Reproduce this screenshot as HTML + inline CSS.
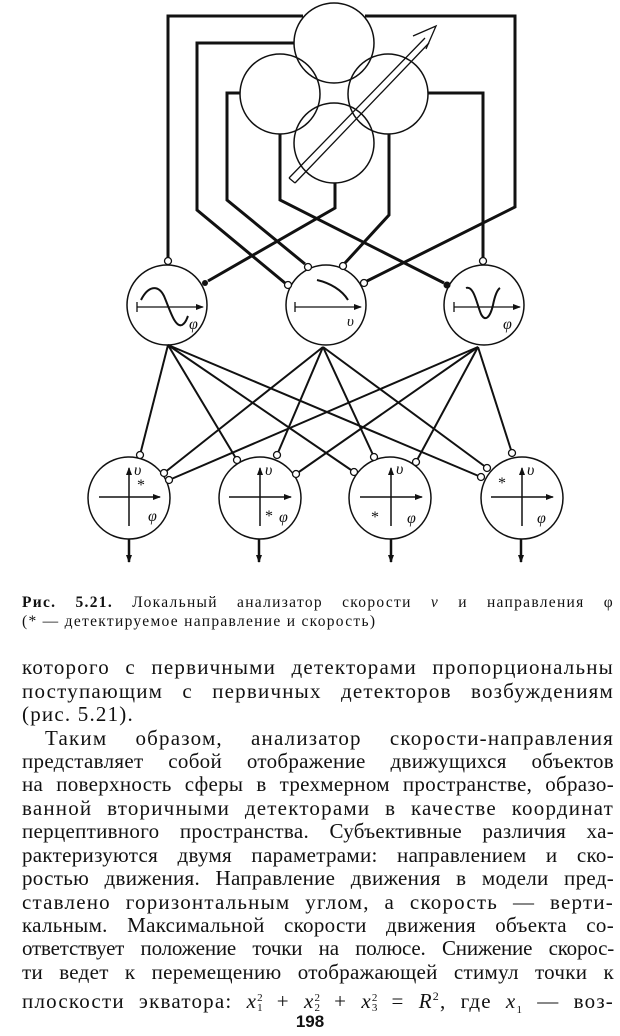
<!DOCTYPE html>
<html><head><meta charset="utf-8"><style>
html,body{margin:0;padding:0;background:#fff;}
body{width:620px;height:1036px;position:relative;overflow:hidden;font-family:"Liberation Serif","DejaVu Serif",serif;color:#111;}
svg{position:absolute;left:0;top:0;}
.cap{position:absolute;left:22px;width:592px;font-size:15.5px;line-height:19px;letter-spacing:1.3px;}
.ln{position:absolute;left:22px;width:592px;font-size:21px;line-height:23px;letter-spacing:1.2px;text-align:justify;text-align-last:justify;white-space:nowrap;}
.ln.nj{text-align-last:left;}
.t{letter-spacing:0.3px;}
.ind{left:45px;width:569px;}
.ss{display:inline-block;vertical-align:middle;font-size:11px;line-height:10px;text-align:left;letter-spacing:0;}
</style></head><body>
<svg width="620" height="580" viewBox="0 0 620 580">
<defs>
<marker id="ah" markerWidth="8" markerHeight="8" refX="7" refY="4" orient="auto" markerUnits="userSpaceOnUse"><path d="M0,1 L8,4 L0,7 Z" fill="#111"/></marker>
</defs>
<g fill="none" stroke="#111" stroke-width="3">
<polyline points="303,16 168,16 168,258"/>
<polyline points="365,16 515,16 515,207 367,281"/>
<polyline points="303,43 197,43 197,210 285,283"/>
<polyline points="240,93 227,93 227,200 305,264"/>
<polyline points="280,134 280,200 444,283"/>
<polyline points="335,183 335,208 208,281"/>
<polyline points="389,134 389,215 345,263"/>
<polyline points="428,93 483,93 483,258"/>
</g>
<circle cx="334" cy="43" r="40" fill="#fff"/>
<g fill="none" stroke="#111" stroke-width="1.5">
<circle cx="280" cy="94" r="40"/><circle cx="388" cy="94" r="40"/><circle cx="334" cy="143" r="40"/><circle cx="334" cy="43" r="40"/>
</g>
<g stroke="#111" stroke-width="1.3" fill="none">
<path d="M289,178 L425,38 M295,183 L429,43 M289,178 L295,183"/>
<path d="M413,36 L436,26 L426,49"/>
</g>
<g fill="#fff" stroke="#111" stroke-width="1.5">
<circle cx="167" cy="305" r="40"/><circle cx="326" cy="305" r="40"/><circle cx="484" cy="305" r="40"/>
</g>
<g fill="#fff" stroke="#111" stroke-width="1.3">
<circle cx="168" cy="261" r="3.5"/><circle cx="483" cy="261" r="3.5"/>
<circle cx="288" cy="285" r="3.5"/><circle cx="308" cy="267" r="3.5"/><circle cx="343" cy="266" r="3.5"/><circle cx="364" cy="283" r="3.5"/>
</g>
<circle cx="447" cy="285" r="3.5" fill="#111"/><circle cx="205" cy="283" r="3" fill="#111"/>
<g stroke="#111" stroke-width="1.3" fill="none">
<line x1="137" y1="307" x2="203" y2="307" marker-end="url(#ah)"/><line x1="137" y1="302" x2="137" y2="312"/>
<path d="M141,300 C148,286 158,284 164,296 C170,310 175,328 182,325 C186,323 187,318 188,316" stroke-width="2"/>
<line x1="295" y1="307" x2="361" y2="307" marker-end="url(#ah)"/><line x1="295" y1="302" x2="295" y2="312"/>
<path d="M317,280 C330,283 342,290 348,300" stroke-width="2"/>
<line x1="454" y1="307" x2="520" y2="307" marker-end="url(#ah)"/><line x1="454" y1="302" x2="454" y2="312"/>
<path d="M466,288 C474,285 477,305 481,314 C485,322 490,318 493,305 C495,295 497,290 500,288" stroke-width="2"/>
</g>
<g font-family="Liberation Serif,serif" font-style="italic" font-size="16" fill="#111">
<text x="189" y="329">φ</text><text x="347" y="326" font-size="15">υ</text><text x="503" y="329">φ</text>
</g>
<g stroke="#111" stroke-width="2" fill="none">
<line x1="168" y1="345" x2="140" y2="455"/><line x1="168" y1="345" x2="237" y2="460"/><line x1="168" y1="345" x2="354" y2="472"/><line x1="168" y1="345" x2="481" y2="477"/>
<line x1="323" y1="347" x2="164" y2="473"/><line x1="323" y1="347" x2="277" y2="455"/><line x1="323" y1="347" x2="374" y2="457"/><line x1="323" y1="347" x2="487" y2="468"/>
<line x1="478" y1="347" x2="169" y2="480"/><line x1="478" y1="347" x2="296" y2="474"/><line x1="478" y1="347" x2="416" y2="462"/><line x1="478" y1="347" x2="512" y2="453"/>
</g>
<g fill="#fff" stroke="#111" stroke-width="1.5">
<circle cx="129" cy="498" r="41"/><circle cx="260" cy="498" r="41"/><circle cx="390" cy="498" r="41"/><circle cx="522" cy="498" r="41"/>
</g>
<g fill="#fff" stroke="#111" stroke-width="1.3">
<circle cx="140" cy="455" r="3.5"/><circle cx="164" cy="473" r="3.5"/><circle cx="169" cy="480" r="3.5"/>
<circle cx="237" cy="460" r="3.5"/><circle cx="277" cy="455" r="3.5"/><circle cx="296" cy="474" r="3.5"/>
<circle cx="354" cy="472" r="3.5"/><circle cx="374" cy="457" r="3.5"/><circle cx="416" cy="462" r="3.5"/>
<circle cx="487" cy="468" r="3.5"/><circle cx="481" cy="477" r="3.5"/><circle cx="512" cy="453" r="3.5"/>
</g>
<g stroke="#111" stroke-width="1.5" fill="none">
<line x1="129" y1="526" x2="129" y2="468" marker-end="url(#ah)"/><line x1="99" y1="497" x2="160" y2="497" marker-end="url(#ah)"/>
<line x1="260" y1="526" x2="260" y2="468" marker-end="url(#ah)"/><line x1="229" y1="497" x2="291" y2="497" marker-end="url(#ah)"/>
<line x1="391" y1="526" x2="391" y2="468" marker-end="url(#ah)"/><line x1="360" y1="497" x2="422" y2="497" marker-end="url(#ah)"/>
<line x1="522" y1="526" x2="522" y2="468" marker-end="url(#ah)"/><line x1="491" y1="497" x2="553" y2="497" marker-end="url(#ah)"/>
</g>
<g stroke="#111" stroke-width="2.5">
<line x1="129" y1="539" x2="129" y2="562" marker-end="url(#ah)"/><line x1="259" y1="539" x2="259" y2="562" marker-end="url(#ah)"/>
<line x1="391" y1="539" x2="391" y2="562" marker-end="url(#ah)"/><line x1="521" y1="539" x2="521" y2="562" marker-end="url(#ah)"/>
</g>
<g font-family="Liberation Serif,serif" font-style="italic" font-size="16" fill="#111">
<text x="134" y="475">υ</text><text x="148" y="521">φ</text><text x="137" y="490" font-style="normal" font-size="16">*</text>
<text x="265" y="475">υ</text><text x="279" y="522">φ</text><text x="265" y="521" font-style="normal" font-size="16">*</text>
<text x="396" y="474">υ</text><text x="407" y="523">φ</text><text x="371" y="522" font-style="normal" font-size="16">*</text>
<text x="527" y="475">υ</text><text x="537" y="523">φ</text><text x="498" y="488" font-style="normal" font-size="16">*</text>
</g>
</svg>

<div class="cap" style="top:593px;text-align:justify;text-align-last:justify;white-space:nowrap;"><b>Рис. 5.21.</b> Локальный анализатор скорости <i>v</i> и направления φ</div>
<div class="cap" style="top:612px;">(* — детектируемое направление и скорость)</div>

<div class="ln" style="top:656px">которого с первичными детекторами пропорциональны</div>
<div class="ln" style="top:680px">поступающим с первичных детекторов возбуждениям</div>
<div class="ln nj" style="top:703px">(рис. 5.21).</div>
<div class="ln ind" style="top:727px">Таким образом, анализатор скорости-направления</div>
<div class="ln t" style="top:750px">представляет собой отображение движущихся объектов</div>
<div class="ln t" style="top:773px">на поверхность сферы в трехмерном пространстве, образо-</div>
<div class="ln" style="top:797px">ванной вторичными детекторами в качестве координат</div>
<div class="ln t" style="top:820px">перцептивного пространства. Субъективные различия ха-</div>
<div class="ln t" style="top:844px">рактеризуются двумя параметрами: направлением и ско-</div>
<div class="ln t" style="top:867px">ростью движения. Направление движения в модели пред-</div>
<div class="ln" style="top:891px">ставлено горизонтальным углом, а скорость — верти-</div>
<div class="ln t" style="top:914px">кальным. Максимальной скорости движения объекта со-</div>
<div class="ln" style="top:937px;letter-spacing:-0.2px">ответствует положение точки на полюсе. Снижение скорос-</div>
<div class="ln t" style="top:961px">ти ведет к перемещению отображающей стимул точки к</div>
<div class="ln" style="top:985px">плоскости экватора: <i>x</i><span class="ss">2<br>1</span> + <i>x</i><span class="ss">2<br>2</span> + <i>x</i><span class="ss">2<br>3</span> = <i>R</i><sup style="font-size:12px">2</sup>, где <i>x</i><sub style="font-size:11px">1</sub> — воз-</div>
<div style="position:absolute;top:1012px;left:0;width:620px;text-align:center;font-family:'Liberation Sans',sans-serif;font-weight:bold;font-size:17px;">198</div>
</body></html>
